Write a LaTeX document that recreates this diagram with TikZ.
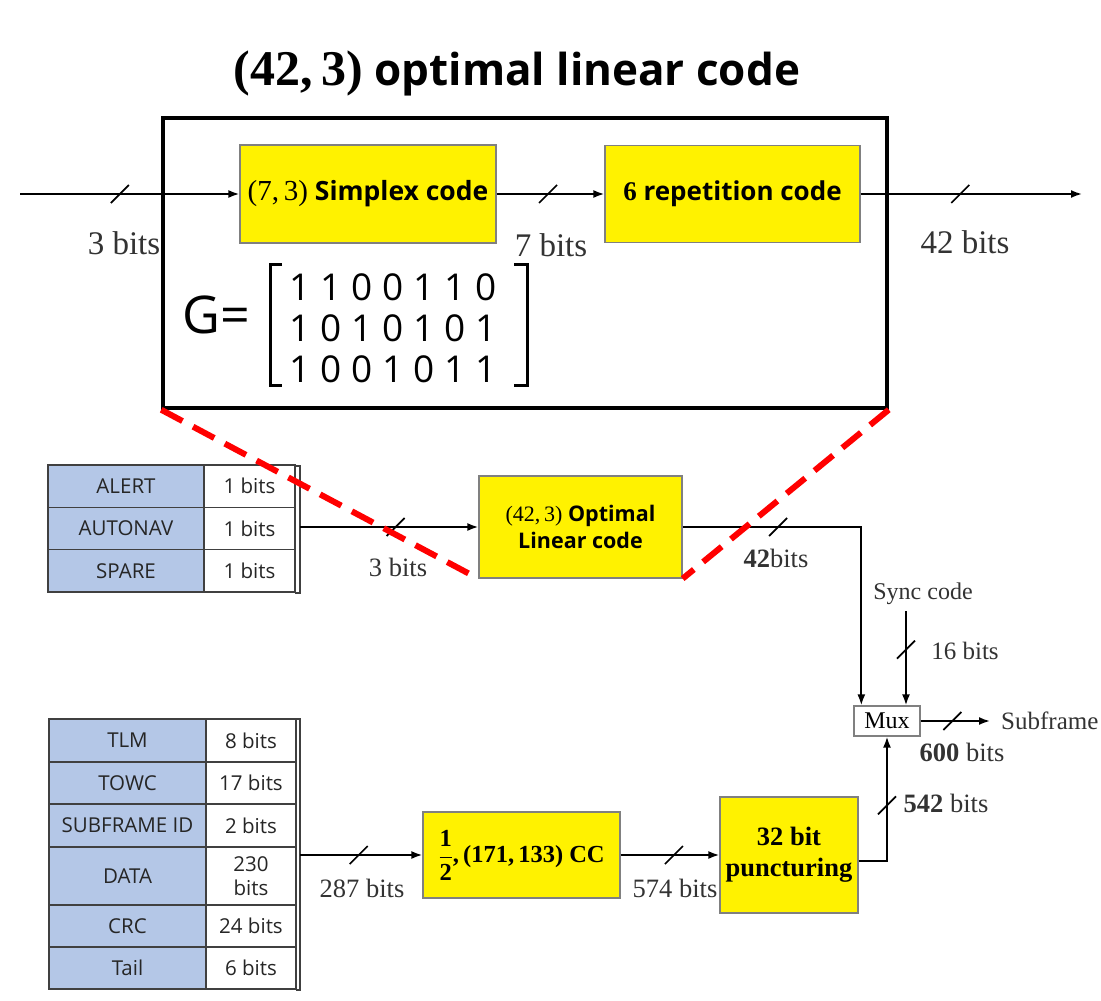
\documentclass[tikz,border=0pt]{standalone}
\usepackage{fontspec}
\setmainfont{Liberation Serif}
\newfontfamily\sansf{Open Sans}
\usetikzlibrary{arrows.meta,calc}
\definecolor{tabblue}{HTML}{B4C7E7}
\definecolor{tabline}{HTML}{404040}
\definecolor{boxline}{HTML}{808080}
\definecolor{lblgray}{HTML}{333333}
\definecolor{dashred}{HTML}{FF0000}
\newcommand\busslash[1]{\draw[slashst] ($(#1)+(-9,9)$) -- ($(#1)+(9,-9)$);}
\begin{document}
\begin{tikzpicture}[x=1pt,y=-1pt,
  arr/.style={line width=1.8pt,-{Latex[length=11pt,width=8pt]}},
  slashst/.style={line width=1.7pt},
  ybox/.style={draw=boxline,line width=1.3pt,fill=yellow,inner sep=0pt,align=center},
  lbl/.style={inner sep=0pt,text=lblgray,font=\fontsize{33}{36}\selectfont},
  slbl/.style={inner sep=0pt,text=lblgray,font=\fontsize{26.5}{30}\selectfont},
  tcell/.style={draw=tabline,line width=1.2pt,inner sep=0pt,align=center,text=black!85,font=\sansf\fontsize{20.5}{24}\selectfont},
  tkey/.style={tcell,fill=tabblue},
  tval/.style={tcell,fill=white},
  brk/.style={line width=1.4pt,draw=tabline},
  reddash/.style={draw=dashred,line width=6pt,dash pattern=on 24pt off 12pt},
  digit/.style={inner sep=0pt,font=\sansf\fontsize{37}{40}\selectfont}
]
\useasboundingbox (0,0) rectangle (1101,1001);
\fill[white] (0,0) rectangle (1101,1001);

% title
\node[inner sep=0pt] (title) at (517,73) {{\fontsize{50}{54}\selectfont\bfseries (42,\,3)}{\sansf\bfseries\fontsize{44}{48}\selectfont{} optimal linear code}};

% big box
\node[draw,line width=3.5pt,minimum width=724pt,minimum height=290pt,inner sep=0pt] (big) at (525,263) {};

% top blocks
\node[ybox,minimum width=256pt,minimum height=98pt] (simplex) at (368,194)
  {\fontsize{29}{30}\selectfont (7,\,3){\sansf\bfseries\fontsize{26.5}{30}\selectfont{} Simplex code}};
\node[ybox,minimum width=255pt,minimum height=97pt] (rep) at (732.5,194)
  {\fontsize{27}{30}\selectfont\bfseries 6{\sansf\fontsize{26}{30}\selectfont{} repetition code}};

\coordinate (in) at (20,194);
\coordinate (out) at (1082,194);
\draw[arr] (in) -- coordinate[pos=0.455](s1) (simplex.west);
\draw[arr] (simplex.east) -- coordinate[pos=0.477](s2) (rep.west);
\draw[arr] (rep.east) -- coordinate[pos=0.45](s3) (out);
\busslash{s1}\busslash{s2}\busslash{s3}

\node[lbl] (l3) at (124,243) {3 bits};
\node[lbl] (l7) at (551,245) {7 bits};
\node[lbl] (l42) at (965,242) {42 bits};

% generator matrix
\node[inner sep=0pt,font=\sansf\fontsize{52}{56}\selectfont] (G) at (216,315) {G=};
\foreach \r/\yy/\row in {1/287/{1,1,0,0,1,1,0},2/328/{1,0,1,0,1,0,1},3/369/{1,0,0,1,0,1,1}}{
  \foreach \d [count=\c] in \row {\node[digit] (g\r\c) at ({269+31*\c},\yy) {\d};}
}
\draw[line width=3pt] (282,264) -- (270,264) -- (270,385) -- (282,385);
\draw[line width=3pt] (514,264) -- (527,264) -- (527,385) -- (514,385);

% middle part
\node[ybox,minimum width=203pt,minimum height=102pt,font=\fontsize{22}{27}\selectfont] (opt) at (580.5,527)
  {(42,\,3){\sansf\bfseries\fontsize{21.5}{27}\selectfont{} Optimal}\\{\sansf\bfseries\fontsize{21.5}{27}\selectfont Linear code}};

\foreach \i/\k/\v/\yy in {1/ALERT/1 bits/486.2,2/AUTONAV/1 bits/528.5,3/SPARE/1 bits/570.8}{
  \node[tkey,minimum width=156pt,minimum height=42.3pt] (t1k\i) at (126,\yy) {\k};
  \node[tval,minimum width=91pt,minimum height=42.3pt] (t1v\i) at (249.5,\yy) {\v};
}
\coordinate (b1t) at (300,466);
\coordinate (b1b) at (300,593);
\draw[brk] (295,466) -- (b1t) -- (b1b) -- (295,593);
\coordinate (t1out) at (300,527);
\draw[arr] (t1out) -- coordinate[pos=0.536](s4) (opt.west);
\busslash{s4}
\node[slbl] (l3b) at (398,567) {3 bits};

\node[draw=boxline,line width=1.3pt,fill=white,minimum width=66pt,minimum height=30pt,inner sep=0pt,font=\fontsize{24}{26}\selectfont] (mux) at (887,721) {Mux};
\coordinate (muxin) at ($(mux.north west)+(8,0)$);
\draw[arr] (opt.east) -| coordinate[pos=0.267](s5) (muxin);
\busslash{s5}
\node[slbl] (l42b) at (776,558) {\textbf{42}bits};

\node[inner sep=0pt,text=lblgray,font=\fontsize{24}{26}\selectfont] (sync) at (923,594) {Sync code};
\coordinate (syncst) at (906,611);
\draw[arr] (syncst) -- coordinate[pos=0.41](s6) (syncst |- mux.north);
\busslash{s6}
\node[inner sep=0pt,text=lblgray,font=\fontsize{25}{28}\selectfont] (l16) at (965,651) {16 bits};

\coordinate (muxout) at (990,721);
\draw[arr] (mux.east) -- coordinate[pos=0.457](s7) (muxout);
\busslash{s7}
\node[inner sep=0pt,anchor=west,text=lblgray,font=\fontsize{25}{28}\selectfont] (subf) at (1001,721) {Subframe};
\node[slbl] (l600) at (962,752) {\textbf{600} bits};

% bottom part
\foreach \i/\k/\v/\yy/\hh in {1/TLM/8 bits/740.5/43,2/TOWC/17 bits/783/42,3/SUBFRAME ID/2 bits/825.5/43,4/DATA/{230\\bits}/876/58,5/CRC/24 bits/926/42,6/Tail/6 bits/968/42}{
  \node[tkey,minimum width=157pt,minimum height=\hh pt] (t2k\i) at (127.5,\yy) {\k};
  \node[tval,minimum width=90pt,minimum height=\hh pt] (t2v\i) at (251,\yy) {\v};
}
\coordinate (b2t) at (300,719);
\coordinate (b2b) at (300,990);
\draw[brk] (296,719) -- (b2t) -- (b2b) -- (296,990);
\coordinate (t2out) at (300,855);

\node[ybox,minimum width=197pt,minimum height=86pt,font=\fontsize{24.5}{28}\selectfont\bfseries] (cc) at (521.5,855)
  {$\displaystyle\frac{\textbf{1}}{\textbf{2}}$,\,(171,\,133) CC};
\node[ybox,minimum width=138pt,minimum height=116pt,font=\fontsize{26.5}{31}\selectfont\bfseries] (punc) at (789,855)
  {32 bit\\puncturing};

\draw[arr] (t2out) -- coordinate[pos=0.48](s8) (cc.west);
\busslash{s8}
\node[slbl] (l287) at (362,888) {287 bits};
\draw[arr] (cc.east) -- coordinate[pos=0.54](s9) (punc.west);
\busslash{s9}
\node[slbl] (l574) at (675,888) {574 bits};

\coordinate (pout) at ($(punc.east)+(0,6)$);
\draw[arr] (pout) -| coordinate[pos=0.724](s10) (mux.south);
\busslash{s10}
\node[slbl] (l542) at (946,803) {\textbf{542} bits};

% zoom lines
\draw[reddash] (big.south west) -- (opt.south west);
\draw[reddash] (big.south east) -- (opt.south east);
\end{tikzpicture}
\end{document}
